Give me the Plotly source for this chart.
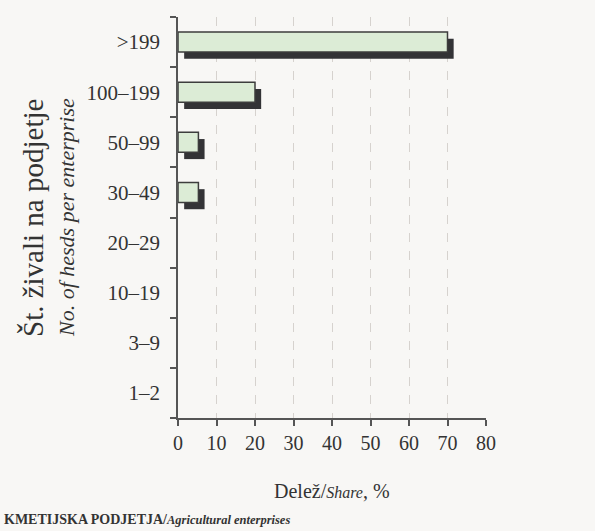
import plotly.graph_objects as go

categories = [">199", "100–199", "50–99", "30–49", "20–29", "10–19", "3–9", "1–2"]
shares = [70, 20, 5.3, 5.3, 0, 0, 0, 0]
x_ticks = [0, 10, 20, 30, 40, 50, 60, 70, 80]

BG = "#f8f7f5"
FONT = "Liberation Serif"
TXT = "#333333"

L, R, T, B = 178, 109, 17, 113
W, H = 595, 531
PW, PH = W - L - R, H - T - B


def px_x(px):
    return (px - L) / PW


def px_y(py):
    return (H - B - py) / PH


cat_order = categories[::-1]
line_w = [1.5 if v > 0 else 0 for v in shares]

fig = go.Figure()
# shadow
fig.add_trace(go.Bar(
    y=categories, x=shares, base=1.6, orientation="h",
    width=0.4, offset=-0.335,
    marker=dict(color="#333336", line=dict(width=0)),
    hoverinfo="skip", showlegend=False,
))
# main bars
fig.add_trace(go.Bar(
    y=categories, x=shares, orientation="h",
    width=0.4, offset=-0.2,
    marker=dict(color="#dcecd6", line=dict(color="#3d3d3d", width=line_w)),
    showlegend=False,
))

fig.update_layout(
    width=W, height=H,
    paper_bgcolor=BG, plot_bgcolor=BG,
    margin=dict(l=L, r=R, t=T, b=B),
    barmode="overlay",
    font=dict(family=FONT, size=20, color=TXT),
    xaxis=dict(
        range=[0, 80], tickvals=x_ticks, ticktext=[str(v) for v in x_ticks],
        showgrid=True, gridcolor="#d6d2ce", griddash="dash", gridwidth=1,
        zeroline=False, showline=True, linecolor="#555555", linewidth=1.5,
        ticks="outside", ticklen=6, tickcolor="#555555", tickwidth=1.5,
        tickfont=dict(family=FONT, size=20, color=TXT),
        automargin=False,
    ),
    yaxis=dict(
        type="category", categoryorder="array", categoryarray=cat_order,
        range=[-0.5, len(categories) - 0.5],
        tickson="boundaries", ticks="outside", ticklen=6,
        tickcolor="#555555", tickwidth=1.5,
        showgrid=False, zeroline=False,
        showline=True, linecolor="#555555", linewidth=1.5,
        tickfont=dict(family=FONT, size=21, color=TXT),
        ticklabelstandoff=12,
        automargin=False,
    ),
    annotations=[
        dict(text="Delež/<i><span style='font-size:16px'>Share</span></i>, %",
             xref="paper", yref="paper", x=0.5, y=px_y(491),
             xanchor="center", yanchor="middle", showarrow=False,
             font=dict(family=FONT, size=20, color=TXT)),
        dict(text="Št. živali na podjetje", xref="paper", yref="paper",
             x=px_x(33), y=px_y(218), xanchor="center", yanchor="middle",
             textangle=-90, showarrow=False,
             font=dict(family=FONT, size=29, color=TXT)),
        dict(text="<i>No. of hesds per enterprise</i>", xref="paper", yref="paper",
             x=px_x(66), y=px_y(218), xanchor="center", yanchor="middle",
             textangle=-90, showarrow=False,
             font=dict(family=FONT, size=22, color=TXT)),
        dict(text="<b>KMETIJSKA PODJETJA/</b><b><i><span style='font-size:12.5px'>Agricultural enterprises</span></i></b>",
             xref="paper", yref="paper", x=px_x(2), y=px_y(519),
             xanchor="left", yanchor="middle", showarrow=False,
             font=dict(family=FONT, size=14, color=TXT)),
    ],
)

fig.write_html(
    "out.html",
    config={"displayModeBar": False},
    post_script="document.body.style.margin='0';document.body.style.background='%s';"
                "document.documentElement.style.overflow='hidden';" % BG,
)
